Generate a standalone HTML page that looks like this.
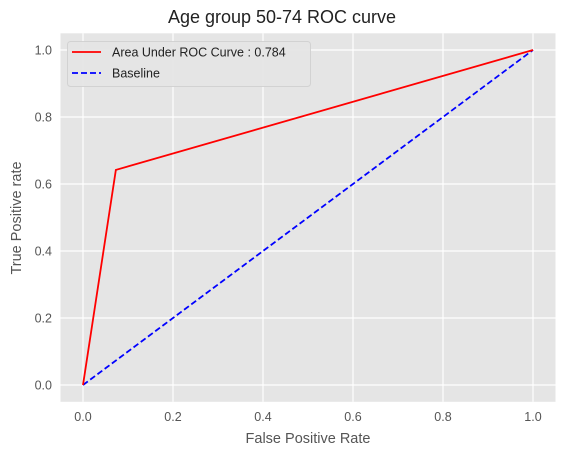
<!DOCTYPE html>
<html><head><meta charset="utf-8"><style>
body{margin:0;background:#fff;font-family:"Liberation Sans",sans-serif}
</style></head><body>
<svg width="565" height="457" xmlns="http://www.w3.org/2000/svg" font-family="Liberation Sans, sans-serif">
<rect x="60.5" y="33.3" width="495" height="368.5" fill="#e5e5e5"/>
<g id="grid"></g>
<g id="ticks" fill="#555" font-size="12.5"></g>
<text x="282" y="23" text-anchor="middle" font-size="18" fill="#222">Age group 50-74 ROC curve</text>
<text x="308" y="443" text-anchor="middle" font-size="14.5" fill="#555">False Positive Rate</text>
<text transform="translate(21,218) rotate(-90)" text-anchor="middle" font-size="14.5" fill="#555">True Positive rate</text>
<g id="series"></g>
<g>
<rect x="67.5" y="41.5" width="243" height="45" rx="3" fill="#e5e5e5" stroke="#d0d0d0" opacity="0.9"/>
<line x1="72" y1="52" x2="101" y2="52" stroke="red" stroke-width="1.8"/>
<text x="112" y="56.5" font-size="12.5" fill="#222">Area Under ROC Curve : 0.784</text>
<line x1="72" y1="73" x2="101" y2="73" stroke="blue" stroke-width="1.8" stroke-dasharray="6,3"/>
<text x="112" y="77.5" font-size="12.5" fill="#222">Baseline</text>
</g>
</svg>
<script>
const ticks=[0,0.2,0.4,0.6,0.8,1.0];
const tickLabels=["0.0","0.2","0.4","0.6","0.8","1.0"];
const rocFpr=[0,0.073,1];
const rocTpr=[0,0.642,1];
const baseX=[0,1];
const baseY=[0,1];
const X=v=>83+v*450, Y=v=>385-v*335;
const ns="http://www.w3.org/2000/svg";
const grid=document.getElementById('grid'),tk=document.getElementById('ticks'),se=document.getElementById('series');
function mk(tag,attrs,parent){const e=document.createElementNS(ns,tag);for(const k in attrs)e.setAttribute(k,attrs[k]);parent.appendChild(e);return e;}
ticks.forEach((t,i)=>{
 let g=mk('line',{x1:X(t),x2:X(t),y1:33.3,y2:401.8,stroke:'#fff','stroke-width':1.2},grid);
 
 
 g=mk('line',{x1:60.5,x2:555.5,y1:Y(t),y2:Y(t),stroke:'#fff','stroke-width':1.2},grid);
 
 
 let l=mk('text',{x:X(t),y:421,'text-anchor':'middle'},tk);l.textContent=tickLabels[i];
 
 
 l=mk('text',{x:52,y:Y(t)+4.5,'text-anchor':'end'},tk);l.textContent=tickLabels[i];
 
 
});
let p=mk('polyline',{points:baseX.map((v,i)=>X(v)+','+Y(baseY[i])).join(' '),fill:'none',stroke:'blue','stroke-width':1.8,'stroke-dasharray':'6,3'},se);


p=mk('polyline',{points:rocFpr.map((v,i)=>X(v)+','+Y(rocTpr[i])).join(' '),fill:'none',stroke:'red','stroke-width':1.8},se);


</script>
</body></html>
